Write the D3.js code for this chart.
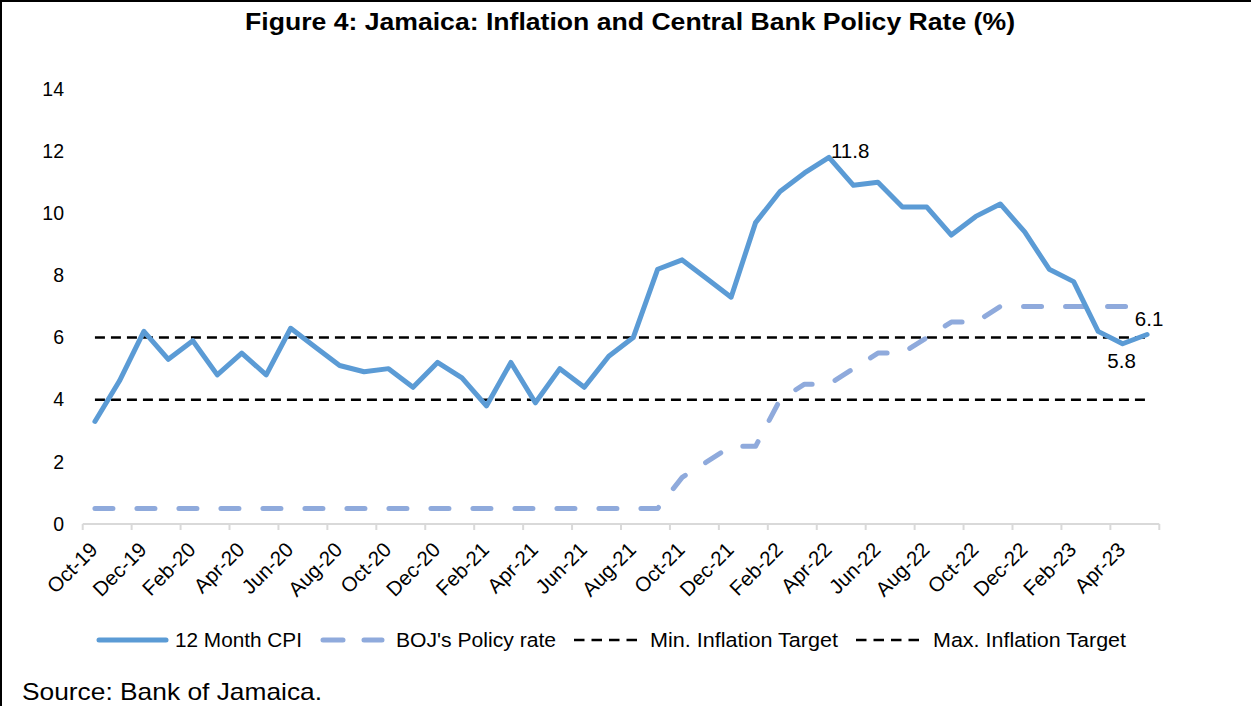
<!DOCTYPE html>
<html>
<head>
<meta charset="utf-8">
<script src="https://cdn.jsdelivr.net/npm/d3@7"></script>
<style>
  html, body { margin: 0; padding: 0; background: #fff; }
  svg { display: block; font-family: "Liberation Sans", Arial, sans-serif; }
</style>
</head>
<body>
<svg id="chart" width="1251" height="706"></svg>
<script>
// Monthly categories, Oct-19 .. May-23
const categories = [
  "Oct-19","Nov-19","Dec-19",
  "Jan-20","Feb-20","Mar-20","Apr-20","May-20","Jun-20","Jul-20","Aug-20","Sep-20","Oct-20","Nov-20","Dec-20",
  "Jan-21","Feb-21","Mar-21","Apr-21","May-21","Jun-21","Jul-21","Aug-21","Sep-21","Oct-21","Nov-21","Dec-21",
  "Jan-22","Feb-22","Mar-22","Apr-22","May-22","Jun-22","Jul-22","Aug-22","Sep-22","Oct-22","Nov-22","Dec-22",
  "Jan-23","Feb-23","Mar-23","Apr-23","May-23"
];

// 12-month point-to-point CPI inflation (%)
const cpi = [
  3.3, 4.6, 6.2,
  5.3, 5.9, 4.8, 5.5, 4.8, 6.3, 5.7, 5.1, 4.9, 5.0, 4.4, 5.2,
  4.7, 3.8, 5.2, 3.9, 5.0, 4.4, 5.4, 6.0, 8.2, 8.5, 7.9, 7.3,
  9.7, 10.7, 11.3, 11.8, 10.9, 11.0, 10.2, 10.2, 9.3, 9.9, 10.3, 9.4,
  8.2, 7.8, 6.2, 5.8, 6.1
];

// BOJ policy rate (%)
const policyRate = [
  0.5, 0.5, 0.5,
  0.5, 0.5, 0.5, 0.5, 0.5, 0.5, 0.5, 0.5, 0.5, 0.5, 0.5, 0.5,
  0.5, 0.5, 0.5, 0.5, 0.5, 0.5, 0.5, 0.5, 0.5, 1.5, 2.0, 2.5,
  2.5, 4.0, 4.5, 4.5, 5.0, 5.5, 5.5, 6.0, 6.5, 6.5, 7.0, 7.0,
  7.0, 7.0, 7.0, 7.0, 7.0
];

// Inflation target band (%)
const minTarget = 4;
const maxTarget = 6;

// Value labels on selected CPI points: [category, position]
const cpiLabels = [
  ["Apr-22", "right"],
  ["Apr-23", "below"],
  ["May-23", "above"]
];

const yTicks = [0, 2, 4, 6, 8, 10, 12, 14];

const legendItems = ["12 Month CPI", "BOJ's Policy rate", "Min. Inflation Target", "Max. Inflation Target"];

const cpiColor = "#5B9BD5";
const policyColor = "#8FAADC";

const svg = d3.select("#chart");

// frame
svg.append("line").attr("x1", 0).attr("x2", 1251).attr("y1", 1).attr("y2", 1)
  .attr("stroke", "#000").attr("stroke-width", 2);
svg.append("line").attr("x1", 1).attr("x2", 1).attr("y1", 0).attr("y2", 706)
  .attr("stroke", "#000").attr("stroke-width", 2);

// title
svg.append("text")
  .attr("x", 245).attr("y", 30)
  .attr("font-size", 23).attr("font-weight", "bold")
  .attr("textLength", 770).attr("lengthAdjust", "spacingAndGlyphs")
  .text("Figure 4: Jamaica: Inflation and Central Bank Policy Rate (%)");

const x = d3.scaleBand().domain(categories).range([82.7, 1159.3]).paddingInner(0).paddingOuter(0);
const cx = c => x(c) + x.bandwidth() / 2;
const y = d3.scaleLinear().domain([0, 14]).range([524, 89]);

// y axis labels (no axis line)
const yAxis = d3.axisLeft(y).tickValues(yTicks).tickSize(0).tickPadding(0).tickFormat(d3.format("d"));
const gy = svg.append("g").attr("transform", "translate(64,0)").call(yAxis);
gy.select(".domain").remove();
gy.selectAll("text").attr("font-size", 19.5).attr("fill", "#000")
  .attr("font-family", "Liberation Sans, Arial, sans-serif");

// x axis: line + boundary ticks every two months
const tickIdx = d3.range(0, categories.length + 1, 2);
const tickPos = tickIdx.map(i => i < categories.length ? x(categories[i]) : x.range()[1]);
const gx = svg.append("g");
gx.append("line").attr("x1", x.range()[0]).attr("x2", x.range()[1])
  .attr("y1", y(0)).attr("y2", y(0)).attr("stroke", "#D9D9D9").attr("stroke-width", 2);
gx.selectAll("line.tick").data(tickPos).join("line").attr("class", "tick")
  .attr("x1", d => d).attr("x2", d => d).attr("y1", y(0)).attr("y2", y(0) + 6)
  .attr("stroke", "#D9D9D9").attr("stroke-width", 2);
const labelCats = categories.filter((c, i) => i % 2 === 0);
gx.selectAll("text").data(labelCats).join("text")
  .attr("transform", d => `translate(${cx(d) + 4},${551}) rotate(-45)`)
  .attr("text-anchor", "end")
  .attr("font-size", 20.5)
  .text(d => d);

// target lines
const targetDash = "10,6";
[minTarget, maxTarget].forEach(v => {
  svg.append("line")
    .attr("x1", cx(categories[0])).attr("x2", cx(categories[categories.length - 1]))
    .attr("y1", y(v)).attr("y2", y(v))
    .attr("stroke", "#000").attr("stroke-width", 2.5).attr("stroke-dasharray", targetDash);
});

const line = d3.line().x(d => cx(d[0])).y(d => y(d[1]));

// policy rate
svg.append("path")
  .datum(categories.map((c, i) => [c, policyRate[i]]))
  .attr("d", line).attr("fill", "none")
  .attr("stroke", policyColor).attr("stroke-width", 5)
  .attr("stroke-dasharray", "18,24").attr("stroke-linecap", "round").attr("stroke-linejoin", "round");

// CPI
svg.append("path")
  .datum(categories.map((c, i) => [c, cpi[i]]))
  .attr("d", line).attr("fill", "none")
  .attr("stroke", cpiColor).attr("stroke-width", 5)
  .attr("stroke-linecap", "round").attr("stroke-linejoin", "round");

// value labels
cpiLabels.forEach(([c, pos]) => {
  const v = cpi[categories.indexOf(c)];
  const px = cx(c), py = y(v);
  const t = svg.append("text").attr("font-size", 20.5).text(d3.format(".1f")(v));
  if (pos === "right") t.attr("x", px + 2).attr("y", py + 1).attr("text-anchor", "start");
  if (pos === "above") t.attr("x", px + 2).attr("y", py - 8).attr("text-anchor", "middle");
  if (pos === "below") t.attr("x", px - 1).attr("y", py + 24).attr("text-anchor", "middle");
});

// legend
const legend = svg.append("g");
const legendY = 640;
const sampleLen = [71, 64, 66, 66];
const sampleGap = [7, 12, 10, 11];
const textLen = [127, 160, 188, 193];
const itemGap = 18;
let lx = 97;
legendItems.forEach((name, i) => {
  const g = legend.append("g").attr("transform", `translate(${lx},0)`);
  const s = g.append("line").attr("x1", 0).attr("x2", sampleLen[i]).attr("y1", legendY).attr("y2", legendY);
  if (i === 0) s.attr("stroke", cpiColor).attr("stroke-width", 5).attr("stroke-linecap", "round")
    .attr("x1", 2).attr("x2", sampleLen[i] - 2);
  if (i === 1) s.attr("stroke", policyColor).attr("stroke-width", 5).attr("stroke-linecap", "round")
    .attr("x1", 3).attr("x2", sampleLen[i] - 2).attr("stroke-dasharray", "20,21");
  if (i >= 2) s.attr("stroke", "#000").attr("stroke-width", 2.5).attr("stroke-dasharray", "10.5,7");
  g.append("text").attr("x", sampleLen[i] + sampleGap[i]).attr("y", legendY + 7)
    .attr("font-size", 20.5)
    .attr("textLength", textLen[i]).attr("lengthAdjust", "spacingAndGlyphs")
    .text(name);
  lx += sampleLen[i] + sampleGap[i] + textLen[i] + itemGap;
});

// source note
svg.append("text").attr("x", 22).attr("y", 700).attr("font-size", 24)
  .attr("textLength", 300).attr("lengthAdjust", "spacingAndGlyphs")
  .text("Source: Bank of Jamaica.");
</script>
</body>
</html>
